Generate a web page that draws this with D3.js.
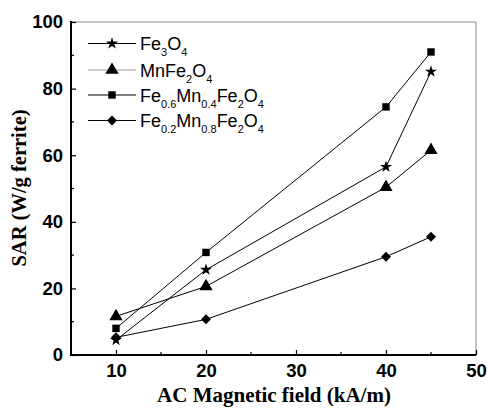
<!DOCTYPE html>
<html><head><meta charset="utf-8">
<script src="https://cdn.jsdelivr.net/npm/d3@7"></script>
<style>body{margin:0;background:#fff}</style>
</head><body>
<script>
const fields = [10, 20, 40, 45];
const fe3o4 = [4.5, 25.6, 56.5, 85.1];
const mnfe2o4 = [11.6, 20.6, 50.4, 61.5];
const fe06mn04 = [8.0, 30.8, 74.5, 91.0];
const fe02mn08 = [5.3, 10.7, 29.5, 35.5];
const xTicks = [10, 20, 30, 40, 50];
const yTicks = [0, 20, 40, 60, 80, 100];
const seriesNames = [
  [["Fe",""],["3","sub"],["O",""],["4","sub"]],
  [["MnFe",""],["2","sub"],["O",""],["4","sub"]],
  [["Fe",""],["0.6","sub"],["Mn",""],["0.4","sub"],["Fe",""],["2","sub"],["O",""],["4","sub"]],
  [["Fe",""],["0.2","sub"],["Mn",""],["0.8","sub"],["Fe",""],["2","sub"],["O",""],["4","sub"]]
];
const seriesValues = [fe3o4, mnfe2o4, fe06mn04, fe02mn08];
const symbols = [d3.symbolStar, d3.symbolTriangle, d3.symbolSquare, d3.symbolSquare];
const symSizes = [45, 75, 55, 50];
const symRot = [0, 0, 0, 45];

const W = 487, H = 408;
const L = 71, R = 476, T = 22, B = 355;
const svg = d3.select("body").append("svg").attr("width", W).attr("height", H);
const x = d3.scaleLinear().domain([5, 50]).range([L, R]);
const y = d3.scaleLinear().domain([0, 100]).range([B, T]);
const sans = "Liberation Sans, Arial, sans-serif";
const serif = "Liberation Serif, Times New Roman, serif";

// frame top/right
svg.append("line").attr("x1", L).attr("x2", R).attr("y1", T).attr("y2", T).attr("stroke", "#888").attr("stroke-width", 1);
svg.append("line").attr("x1", R).attr("x2", R).attr("y1", T).attr("y2", B).attr("stroke", "#888").attr("stroke-width", 1);

// x axis
const xAx = svg.append("g").attr("transform", `translate(0,${B})`);
xAx.call(d3.axisBottom(x).tickValues(xTicks).tickSize(-5).tickPadding(9).tickFormat(d3.format("d")));
xAx.selectAll(".tick text").attr("font-family", sans).attr("font-weight", "bold").attr("font-size", 18.5).attr("fill", "#000");
xAx.select(".domain").remove();
xAx.selectAll(".tick line").attr("stroke", "#000").attr("stroke-width", 1.2);
xAx.selectAll(".minor").data([15, 25, 35, 45]).enter().append("line")
  .attr("x1", d => x(d)).attr("x2", d => x(d)).attr("y1", 0).attr("y2", -3).attr("stroke", "#000").attr("stroke-width", 1.2);

// y axis
const yAx = svg.append("g").attr("transform", `translate(${L},0)`);
yAx.call(d3.axisLeft(y).tickValues(yTicks).tickSize(-5).tickPadding(8).tickFormat(d3.format("d")));
yAx.selectAll(".tick text").attr("font-family", sans).attr("font-weight", "bold").attr("font-size", 18.5).attr("fill", "#000");
yAx.select(".domain").remove();
yAx.selectAll(".tick line").attr("stroke", "#000").attr("stroke-width", 1.2);
yAx.selectAll(".minor").data([10, 30, 50, 70, 90]).enter().append("line")
  .attr("x1", 0).attr("x2", 3).attr("y1", d => y(d)).attr("y2", d => y(d)).attr("stroke", "#000").attr("stroke-width", 1.2);

// axis lines
svg.append("line").attr("x1", L).attr("x2", L).attr("y1", T - 1).attr("y2", B + 1).attr("stroke", "#000").attr("stroke-width", 2);
svg.append("line").attr("x1", L - 1).attr("x2", R).attr("y1", B).attr("y2", B).attr("stroke", "#000").attr("stroke-width", 2);

// series
const line = d3.line().x((d, i) => x(fields[i])).y(d => y(d));
seriesValues.forEach((vals, k) => {
  svg.append("path").attr("d", line(vals)).attr("fill", "none").attr("stroke", "#000").attr("stroke-width", 1);
  svg.selectAll(null).data(vals).enter().append("path")
    .attr("d", d3.symbol().type(symbols[k]).size(symSizes[k]))
    .attr("transform", (d, i) => `translate(${x(fields[i])},${y(d)}) rotate(${symRot[k]})`)
    .attr("fill", "#000");
});

// legend
const legY = [43.5, 70, 95, 120.5];
const legendColors = ["#000", "#999", "#000", "#000"];
seriesNames.forEach((parts, k) => {
  const g = svg.append("g").attr("transform", `translate(0,${legY[k]})`);
  g.append("line").attr("x1", 88).attr("x2", 136).attr("y1", 0).attr("y2", 0).attr("stroke", legendColors[k]).attr("stroke-width", 1);
  g.append("path").attr("d", d3.symbol().type(symbols[k]).size(symSizes[k])).attr("transform", `translate(112,0) rotate(${symRot[k]})`).attr("fill", "#000");
  const t = g.append("text").attr("x", 140).attr("y", 6.5).attr("font-family", sans).attr("font-size", 18).attr("fill", "#000");
  let prevSub = false;
  parts.forEach(([s, kind]) => {
    if (kind === "sub") { t.append("tspan").attr("font-size", 11).attr("dy", 6).text(s); prevSub = true; }
    else { t.append("tspan").attr("dy", prevSub ? -6 : 0).text(s); prevSub = false; }
  });
});

// axis titles
svg.append("text").attr("x", 274).attr("y", 402).attr("text-anchor", "middle")
  .attr("font-family", serif).attr("font-weight", "bold").attr("font-size", 21).attr("fill", "#000")
  .text("AC Magnetic field (kA/m)");
svg.append("text").attr("transform", "translate(26,188) rotate(-90)").attr("text-anchor", "middle")
  .attr("font-family", serif).attr("font-weight", "bold").attr("font-size", 20.5).attr("fill", "#000")
  .text("SAR (W/g ferrite)");
</script>
</body></html>
